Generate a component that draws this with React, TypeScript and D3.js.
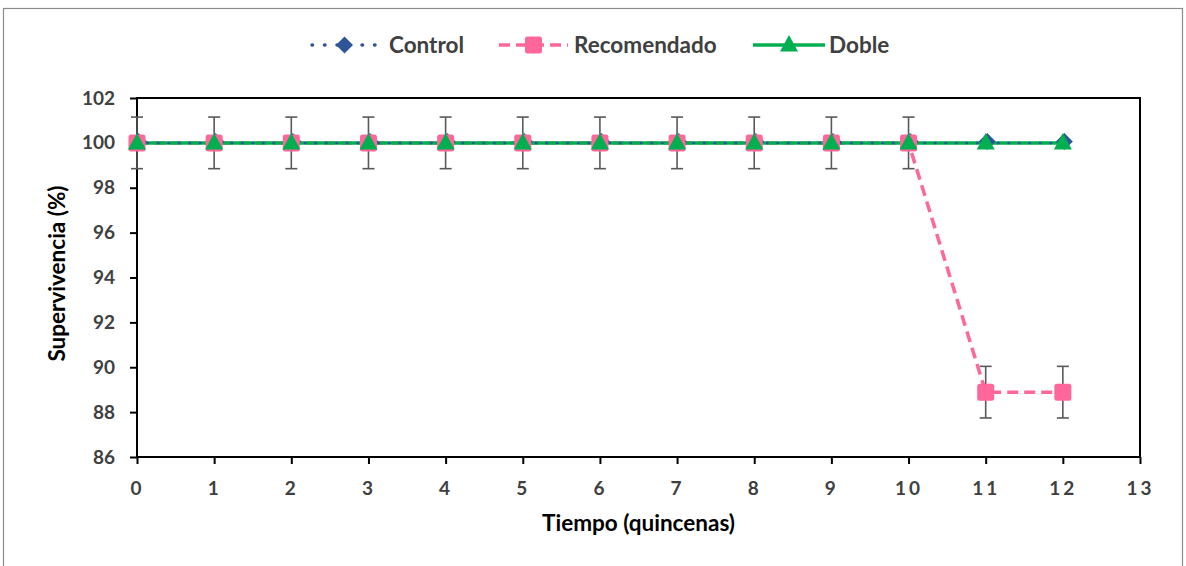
import * as React from "react";
import * as d3 from "d3";

// quincenas
const tiempo = [0, 1, 2, 3, 4, 5, 6, 7, 8, 9, 10, 11, 12];
const control = [100, 100, 100, 100, 100, 100, 100, 100, 100, 100, 100, 100, 100];
const recomendado = [100, 100, 100, 100, 100, 100, 100, 100, 100, 100, 100, 88.89, 88.89];
const doble = [100, 100, 100, 100, 100, 100, 100, 100, 100, 100, 100, 100, 100];
const recomendadoErr = [1.15, 1.15, 1.15, 1.15, 1.15, 1.15, 1.15, 1.15, 1.15, 1.15, 1.15, 1.15, 1.15];
const yTicks = [86, 88, 90, 92, 94, 96, 98, 100, 102];
const xTicks = [0, 1, 2, 3, 4, 5, 6, 7, 8, 9, 10, 11, 12, 13];
const seriesNames = ["Control", "Recomendado", "Doble"];

const W = 1186;
const H = 566;
const FONT = "Lato, 'Open Sans', sans-serif";
const BLUE = "#2F5597";
const PINK = "#FF6699";
const GREEN = "#00B050";

export default function App() {
  const ref = React.useRef<SVGSVGElement | null>(null);

  React.useEffect(() => {
    const svg = d3.select(ref.current);
    svg.selectAll("*").remove();

    const x = d3.scaleLinear([0, 13], [137, 1140]);
    const y = d3.scaleLinear([86, 102], [457, 98]);

    // outer frame
    svg
      .append("rect")
      .attr("x", 3.5)
      .attr("y", 8.5)
      .attr("width", 1179)
      .attr("height", 700)
      .attr("fill", "white")
      .attr("stroke", "#8c8c8c")
      .attr("stroke-width", 1.2);

    // plot area border
    svg
      .append("rect")
      .attr("x", x(0))
      .attr("y", y(102))
      .attr("width", x(13) - x(0))
      .attr("height", y(86) - y(102))
      .attr("fill", "none")
      .attr("stroke", "black")
      .attr("stroke-width", 2);

    // axes
    const yAxis = d3.axisLeft(y).tickValues(yTicks).tickSize(7).tickPadding(15).tickFormat((d) => `${d}`);
    const yG = svg.append("g").attr("transform", `translate(${x(0)},0)`).call(yAxis);
    yG.select(".domain").remove();
    yG.selectAll("line").attr("stroke", "black").attr("stroke-width", 2);
    yG.selectAll("text")
      .attr("font-family", FONT)
      .attr("font-weight", "bold")
      .attr("font-size", 19)
      .attr("fill", "#404040");

    const xAxis = d3.axisBottom(x).tickValues(xTicks).tickSize(7).tickPadding(18).tickFormat((d) => `${d}`);
    const xG = svg.append("g").attr("transform", `translate(0,${y(86)})`).call(xAxis);
    xG.select(".domain").remove();
    xG.selectAll("line").attr("stroke", "black").attr("stroke-width", 2);
    xG.selectAll("text")
      .attr("font-family", FONT)
      .attr("font-weight", "bold")
      .attr("font-size", 19)
      .attr("letter-spacing", 3)
      .attr("fill", "#404040");

    // axis titles
    svg
      .append("text")
      .attr("x", (x(0) + x(13)) / 2)
      .attr("y", 531)
      .attr("text-anchor", "middle")
      .attr("font-family", FONT)
      .attr("font-weight", "bold")
      .attr("font-size", 22.5)
      .attr("fill", "black")
      .text("Tiempo (quincenas)");

    svg
      .append("text")
      .attr("transform", `translate(65,${(y(86) + y(102)) / 2 - 4}) rotate(-90)`)
      .attr("text-anchor", "middle")
      .attr("font-family", FONT)
      .attr("font-weight", "bold")
      .attr("font-size", 22.5)
      .attr("fill", "black")
      .text("Supervivencia (%)");

    // error bars (Recomendado)
    const eb = svg.append("g");
    tiempo.forEach((t, i) => {
      const hi = y(recomendado[i] + recomendadoErr[i]);
      const lo = y(recomendado[i] - recomendadoErr[i]);
      eb.append("line").attr("x1", x(t)).attr("x2", x(t)).attr("y1", hi).attr("y2", lo);
      eb.append("line").attr("x1", x(t) - 6).attr("x2", x(t) + 6).attr("y1", hi).attr("y2", hi);
      eb.append("line").attr("x1", x(t) - 6).attr("x2", x(t) + 6).attr("y1", lo).attr("y2", lo);
    });
    eb.selectAll("line").attr("stroke", "#595959").attr("stroke-width", 1.6);

    const line = d3
      .line<number>()
      .x((_, i) => x(tiempo[i]))
      .y((d) => y(d));

    svg.append("path").attr("d", line(recomendado)).attr("fill", "none")
      .attr("stroke", PINK).attr("stroke-width", 3.5).attr("stroke-dasharray", "11 6");
    svg.append("path").attr("d", line(doble)).attr("fill", "none")
      .attr("stroke", GREEN).attr("stroke-width", 3.5);
    svg.append("path").attr("d", line(control)).attr("fill", "none")
      .attr("stroke", BLUE).attr("stroke-width", 2.5)
      .attr("stroke-linecap", "round").attr("stroke-dasharray", "0.5 10");

    // markers
    const diamond = (cx: number, cy: number, r: number) =>
      `M${cx},${cy - r}L${cx + r},${cy}L${cx},${cy + r}L${cx - r},${cy}Z`;
    const triangle = (cx: number, cy: number) =>
      `M${cx},${cy - 10}L${cx + 9},${cy + 6.5}L${cx - 9},${cy + 6.5}Z`;

    svg.append("g").selectAll("path").data(control).enter().append("path")
      .attr("d", (d, i) => diamond(x(tiempo[i]) + 1.5, y(d) - 1.5, 8.5))
      .attr("fill", BLUE);
    svg.append("g").selectAll("rect").data(recomendado).enter().append("rect")
      .attr("x", (_, i) => x(tiempo[i]) - 8.5)
      .attr("y", (d) => y(d) - 8.5)
      .attr("width", 17)
      .attr("height", 17)
      .attr("rx", 2.5)
      .attr("fill", PINK);
    svg.append("g").selectAll("path").data(doble).enter().append("path")
      .attr("d", (d, i) => triangle(x(tiempo[i]), y(d)))
      .attr("fill", GREEN);

    // legend
    const ly = 45;
    const lg = svg.append("g");
    const legendItems = [
      { x1: 312, x2: 377, text: 389, color: BLUE },
      { x1: 499, x2: 568, text: 574, color: PINK },
      { x1: 753, x2: 825, text: 829, color: GREEN },
    ];
    legendItems.forEach((it, i) => {
      const l = lg.append("line")
        .attr("x1", it.x1).attr("x2", it.x2).attr("y1", ly).attr("y2", ly)
        .attr("stroke", it.color);
      const mx = (it.x1 + it.x2) / 2;
      if (i === 0) {
        l.attr("stroke-width", 3.5).attr("stroke-linecap", "round").attr("stroke-dasharray", "0.5 12");
        lg.append("path").attr("d", diamond(mx, ly, 8.5)).attr("fill", BLUE);
      } else if (i === 1) {
        l.attr("stroke-width", 3.5).attr("stroke-dasharray", "11 6");
        lg.append("rect").attr("x", mx - 8.5).attr("y", ly - 8.5).attr("width", 17).attr("height", 17)
          .attr("rx", 2.5).attr("fill", PINK);
      } else {
        l.attr("stroke-width", 3.5);
        lg.append("path").attr("d", triangle(mx, ly)).attr("fill", GREEN);
      }
      lg.append("text")
        .attr("x", it.text)
        .attr("y", ly + 8)
        .attr("font-family", FONT)
        .attr("font-weight", "bold")
        .attr("font-size", 22.5)
        .attr("fill", "#404040")
        .text(seriesNames[i]);
    });
  }, []);

  return (
    <svg
      ref={ref}
      width={W}
      height={H}
      style={{ position: "absolute", left: 0, top: 0, background: "white" }}
    />
  );
}
